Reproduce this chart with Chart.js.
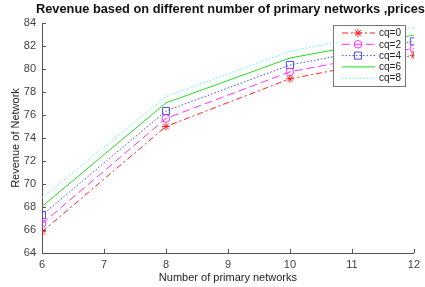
<!DOCTYPE html>
<html>
<head>
<meta charset="utf-8">
<script src="https://cdn.jsdelivr.net/npm/chart.js@4"></script>
<style>
  html, body { margin: 0; padding: 0; background: #fff; }
  #wrap { width: 425px; height: 287px; position: relative; }
</style>
</head>
<body>
<div id="wrap"><canvas id="revenueChart"></canvas></div>
<script>
// Data
const primaryNetworks = [6, 8, 10, 12];
const cq0 = [65.85, 75.0, 79.15, 81.2];
const cq2 = [66.55, 75.7, 79.75, 81.8];
const cq4 = [67.3, 76.35, 80.35, 82.4];
const cq6 = [68.05, 77.05, 80.95, 82.95];
const cq8 = [68.8, 77.6, 81.55, 83.6];
const seriesLabels = ['cq=0', 'cq=2', 'cq=4', 'cq=6', 'cq=8'];
const yTicks = [64, 66, 68, 70, 72, 74, 76, 78, 80, 82, 84];
const xTicks = [6, 7, 8, 9, 10, 11, 12];

const titleText = 'Revenue based on different number of primary networks ,prices';
const axisColor = '#555';
const labelColor = '#404040';

function toPoints(values) {
  return primaryNetworks.map((x, i) => ({ x: x, y: values[i] }));
}

// Title drawn left-aligned like the original figure
const titlePlugin = {
  id: 'figTitle',
  afterDraw(chart) {
    const c = chart.ctx;
    c.save();
    c.font = 'bold 12.8px "Liberation Sans", Arial, sans-serif';
    c.fillStyle = '#111';
    c.textBaseline = 'middle';
    c.fillText(titleText, 36, 9);
    c.restore();
  }
};

// Inward tick marks (MATLAB style)
const innerTicks = {
  id: 'innerTicks',
  afterDraw(chart) {
    const c = chart.ctx;
    const xs = chart.scales.x, ys = chart.scales.y;
    c.save();
    c.strokeStyle = axisColor;
    c.lineWidth = 1;
    c.beginPath();
    yTicks.forEach(v => {
      const py = Math.round(ys.getPixelForValue(v)) + 0.5;
      c.moveTo(xs.left, py);
      c.lineTo(xs.left + 4, py);
    });
    xTicks.forEach(v => {
      const px = Math.round(xs.getPixelForValue(v)) + 0.5;
      c.moveTo(px, ys.bottom);
      c.lineTo(px, ys.bottom - 4);
    });
    c.stroke();
    c.restore();
  }
};

// Legend box in the upper right corner
const boxLegend = {
  id: 'boxLegend',
  afterDraw(chart) {
    const c = chart.ctx;
    const x0 = 333, y0 = 25, w = 72, h = 61;
    c.save();
    c.fillStyle = '#fff';
    c.fillRect(x0, y0, w, h);
    c.strokeStyle = '#777';
    c.lineWidth = 1;
    c.strokeRect(x0 + 0.5, y0 + 0.5, w, h);
    chart.data.datasets.forEach((ds, i) => {
      const ry = y0 + 8 + i * 11.3;
      c.strokeStyle = ds.borderColor;
      c.lineWidth = 1;
      c.setLineDash(ds.borderDash || []);
      c.beginPath();
      c.moveTo(x0 + 9, ry);
      c.lineTo(x0 + 42, ry);
      c.stroke();
      c.setLineDash([]);
      if (ds.pointRadius > 0) {
        c.fillStyle = 'rgba(0,0,0,0)';
        Chart.helpers.drawPoint(c, {
          pointStyle: ds.pointStyle,
          radius: ds.pointRadius,
          borderWidth: 1
        }, x0 + 25, ry);
      }
      c.fillStyle = '#222';
      c.font = '10px "Liberation Sans", Arial, sans-serif';
      c.textBaseline = 'middle';
      c.fillText(ds.label, x0 + 46, ry + 0.5);
    });
    c.restore();
  }
};

function makeSet(label, values, color, dash, style, radius) {
  return {
    label: label,
    data: toPoints(values),
    borderColor: color,
    backgroundColor: 'transparent',
    borderWidth: 1,
    borderDash: dash,
    pointStyle: style,
    pointRadius: radius,
    pointBorderColor: color,
    pointBackgroundColor: 'transparent',
    pointBorderWidth: 1,
    tension: 0
  };
}

const ctx = document.getElementById('revenueChart').getContext('2d');

const revenueChart = new Chart(ctx, {
  type: 'line',
  data: {
    datasets: [
      makeSet(seriesLabels[0], cq0, '#ff2020', [6, 3, 2, 3], 'star', 4),
      makeSet(seriesLabels[1], cq2, '#ff30ff', [8, 4], 'circle', 3.8),
      makeSet(seriesLabels[2], cq4, '#4a4aff', [1.5, 2], 'rect', 5),
      makeSet(seriesLabels[3], cq6, '#22dd22', [], 'line', 0),
      makeSet(seriesLabels[4], cq8, '#55f0f0', [1.5, 2], 'line', 0)
    ]
  },
  options: {
    responsive: true,
    maintainAspectRatio: false,
    animation: false,
    layout: { padding: { top: 23, right: 9, left: 0, bottom: 0 } },
    plugins: {
      legend: { display: false },
      title: { display: false },
      tooltip: { enabled: false }
    },
    scales: {
      x: {
        type: 'linear',
        min: 6,
        max: 12,
        afterFit(scale) { scale.height = 34; },
        ticks: {
          stepSize: 1,
          color: labelColor,
          padding: 5,
          font: { size: 11, family: '"Liberation Sans", Arial, sans-serif' }
        },
        grid: { display: false, drawTicks: false },
        border: { display: true, color: axisColor, width: 1 },
        title: {
          display: true,
          text: 'Number of primary networks',
          color: '#222',
          padding: { top: 0, bottom: 2 },
          font: { size: 11, family: '"Liberation Sans", Arial, sans-serif' }
        }
      },
      y: {
        min: 64,
        max: 84,
        afterFit(scale) { scale.width = 42; },
        ticks: {
          stepSize: 2,
          color: labelColor,
          padding: 6,
          font: { size: 11, family: '"Liberation Sans", Arial, sans-serif' }
        },
        grid: { display: false, drawTicks: false },
        border: { display: true, color: axisColor, width: 1 },
        title: {
          display: true,
          text: 'Revenue of Network',
          color: '#222',
          padding: { top: 9, bottom: 0 },
          font: { size: 11, family: '"Liberation Sans", Arial, sans-serif' }
        }
      }
    }
  },
  plugins: [titlePlugin, innerTicks, boxLegend]
});
</script>
</body>
</html>
